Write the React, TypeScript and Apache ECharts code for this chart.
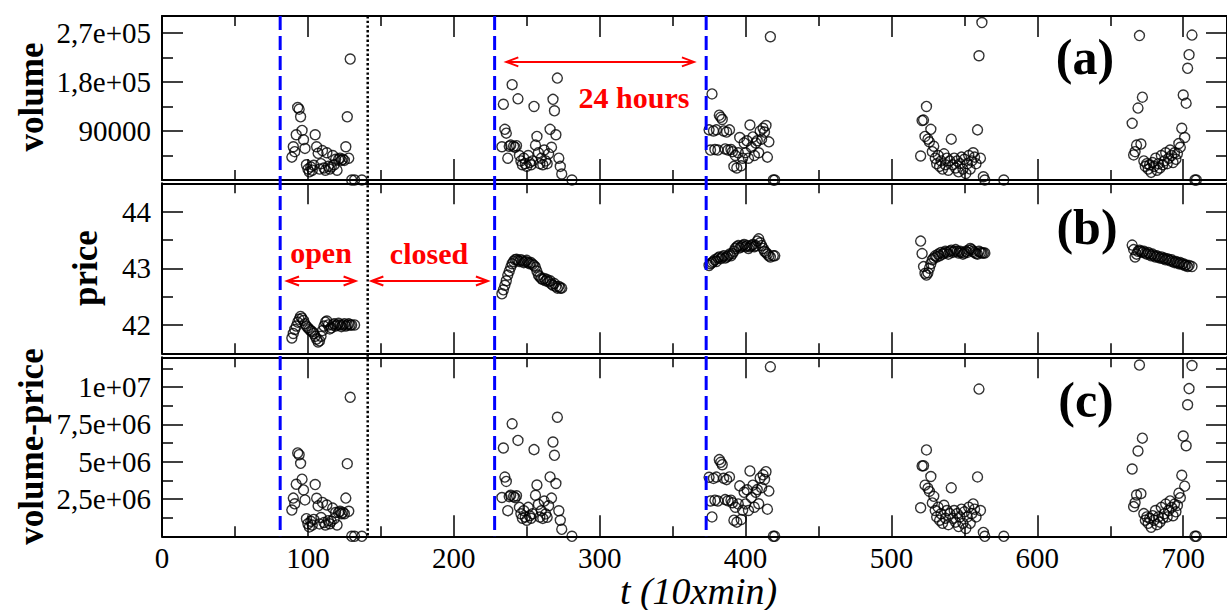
import React, { useEffect, useRef } from "react";
import * as echarts from "echarts";

// ---------------- axes: ranges, ticks, tick labels ----------------
const tMax = 730;
const tMajorTicks = [0, 100, 200, 300, 400, 500, 600, 700];
const tMinorTicks = [50, 150, 250, 350, 450, 550, 650];
const tTickLabels = ["0", "100", "200", "300", "400", "500", "600", "700"];

const volumeMax = 301000;
const volumeMajorTicks = [90000, 180000, 270000];
const volumeMinorTicks = [45000, 135000, 225000];
const volumeTickLabels = ["90000", "1,8e+05", "2,7e+05"];

const priceMin = 41.5;
const priceMax = 44.5;
const priceMajorTicks = [42, 43, 44];
const priceMinorTicks = [42.5, 43.5];
const priceTickLabels = ["42", "43", "44"];

const vpMax = 12000000;
const vpMajorTicks = [2500000, 5000000, 7500000, 10000000];
const vpMinorTicks = [1250000, 3750000, 6250000, 8750000, 11250000];
const vpTickLabels = ["2,5e+06", "5e+06", "7,5e+06", "1e+07"];

// ---------------- reference lines & annotations (data coords) ----------------
const openLines = [81, 228, 373];
const closeLines = [141];
const hoursArrowT = [236, 364.6];
const hoursArrowVolume = 216800;
const openArrowT = [85.7, 132.7];
const closedArrowT = [143.5, 223.4];
const arrowPrice = 42.776;

// ---------------- data (volume in thousands, volume-price in millions) ----------------
const day1T = [89, 90, 91, 92, 93, 94, 95, 96, 97, 98, 99, 100, 101, 102, 103, 104, 105, 106, 107, 108, 109, 110, 111, 112, 113, 114, 115, 116, 117, 118, 119, 120, 121, 122, 123, 124, 125, 126, 127, 128, 129, 130, 132, 137];
const day1VolK = [42, 61, 52, 83, 133, 130, 116, 91, 74, 58, 28, 20, 15, 24, 18, 27, 83, 61, 49, 20, 30, 54, 22, 18, 50, 25, 20, 24, 45, 28, 38, 18, 38, 40, 36, 38, 36, 61, 116, 40, 222, 0, 0, 0];
const day1Price = [41.77, 41.85, 41.92, 41.98, 42.05, 42.1, 42.15, 42.12, 42.08, 42.02, 41.98, 41.95, 41.92, 41.9, 41.88, 41.85, 41.8, 41.75, 41.7, 41.72, 41.8, 41.9, 41.98, 42.05, 42.07, 42.0, 41.93, 41.95, 42.0, 42.02, 41.98, 42.0, 42.03, 42.0, 41.97, 42.0, 42.02, 41.98, 42.0, 42.02, 42.0, 42.0, 42.0, null];
const day1VpM = [1.76, 2.56, 2.18, 3.49, 5.59, 5.47, 4.89, 3.83, 3.11, 2.44, 1.18, 0.84, 0.63, 1.01, 0.75, 1.13, 3.47, 2.55, 2.04, 0.83, 1.26, 2.27, 0.92, 0.76, 2.1, 1.05, 0.84, 1.01, 1.89, 1.18, 1.6, 0.76, 1.6, 1.68, 1.51, 1.6, 1.51, 2.56, 4.87, 1.68, 9.32, 0, 0, 0];

const day2T = [233, 234, 235, 236, 237, 238, 239, 240, 241, 242, 243, 244, 245, 246, 247, 248, 249, 250, 251, 252, 253, 254, 255, 256, 257, 258, 259, 260, 261, 262, 263, 264, 265, 266, 267, 268, 269, 270, 271, 272, 273, 274, 281];
const day2VolK = [61, 139, 93, 86, 40, 62, 64, 175, 62, 60, 63, 149, 45, 35, 28, 40, 30, 25, 45, 32, 28, 35, 135, 64, 80, 50, 30, 40, 28, 55, 35, 30, 48, 93, 60, 148, 127, 83, 187, 40, 25, 11, 0];
const day2Price = [42.55, 42.62, 42.7, 42.78, 42.88, 42.95, 43.02, 43.08, 43.12, 43.15, 43.16, 43.14, 43.12, 43.15, 43.13, 43.1, 43.12, 43.14, 43.1, 43.08, 43.1, 43.07, 43.05, 43.02, 42.95, 42.88, 42.85, 42.82, 42.8, 42.82, 42.78, 42.8, 42.76, 42.78, 42.72, 42.7, 42.73, 42.68, 42.65, 42.68, 42.65, 42.65, null];
const day2VpM = [2.6, 5.92, 3.97, 3.68, 1.72, 2.66, 2.75, 7.54, 2.67, 2.59, 2.72, 6.43, 1.94, 1.51, 1.21, 1.72, 1.29, 1.08, 1.94, 1.38, 1.21, 1.51, 5.81, 2.75, 3.44, 2.14, 1.29, 1.71, 1.2, 2.36, 1.5, 1.28, 2.05, 3.98, 2.56, 6.32, 5.43, 3.54, 7.98, 1.71, 1.07, 0.47, 0];

const day3T = [375, 376, 377, 378, 379, 380, 381, 382, 383, 384, 385, 386, 387, 388, 389, 390, 391, 392, 393, 394, 395, 396, 397, 398, 399, 400, 401, 402, 403, 404, 405, 406, 407, 408, 409, 410, 411, 412, 413, 414, 415, 416, 417, 419, 420];
const day3VolK = [92, 55, 158, 90, 56, 92, 55, 119, 115, 111, 90, 57, 88, 55, 92, 56, 52, 25, 45, 22, 50, 78, 26, 40, 68, 50, 72, 40, 101, 60, 79, 45, 68, 72, 50, 90, 75, 95, 88, 100, 42, 70, 263, 0, 0];
const day3Price = [43.05, 43.08, 43.1, 43.12, 43.15, 43.12, 43.18, 43.2, 43.17, 43.2, 43.22, 43.18, 43.2, 43.22, 43.25, 43.22, 43.26, 43.3, 43.35, 43.38, 43.4, 43.36, 43.38, 43.4, 43.42, 43.38, 43.4, 43.35, 43.38, 43.4, 43.42, 43.38, 43.4, 43.48, 43.52, 43.45, 43.4, 43.35, 43.3, 43.28, 43.25, 43.22, 43.2, 43.22, 43.22];
const day3VpM = [3.96, 2.37, 1.3, 3.88, 2.42, 3.97, 2.37, 5.14, 4.96, 4.8, 3.89, 2.46, 3.8, 2.38, 3.98, 2.42, 2.25, 1.08, 1.95, 0.95, 2.17, 3.38, 1.13, 1.74, 2.95, 2.17, 3.12, 1.73, 4.38, 2.6, 3.43, 1.95, 2.95, 3.13, 2.18, 3.91, 3.26, 4.12, 3.81, 4.33, 1.82, 3.03, 11.36, 0, 0];

const day4T = [520, 521, 522, 523, 524, 525, 526, 527, 528, 529, 530, 531, 532, 533, 534, 535, 536, 537, 538, 539, 540, 541, 542, 543, 544, 545, 546, 547, 548, 549, 550, 551, 552, 553, 554, 555, 556, 557, 558, 559, 560, 561, 562, 563, 564, 577];
const day4VolK = [44, 109, 110, 80, 135, 75, 70, 93, 52, 62, 40, 30, 45, 25, 35, 20, 48, 28, 40, 18, 35, 75, 28, 40, 22, 35, 15, 30, 42, 20, 38, 12, 30, 45, 20, 35, 50, 42, 30, 92, 228, 40, 289, 6, 0, 0];
const day4Price = [43.48, 43.26, 43.03, 42.91, 42.88, 42.92, 43.0, 43.08, 43.15, 43.18, 43.22, 43.2, 43.25, 43.22, 43.28, 43.25, 43.27, 43.3, 43.28, 43.25, 43.3, 43.32, 43.28, 43.3, 43.33, 43.3, 43.27, 43.3, 43.28, 43.25, 43.27, 43.3, 43.28, 43.32, 43.35, 43.33, 43.3, 43.28, 43.26, 43.25, 43.3, 43.28, 43.27, 43.27, 43.27, null];
const day4VpM = [1.91, 4.72, 4.73, 3.43, 5.79, 3.22, 3.01, 4.01, 2.24, 2.68, 1.73, 1.3, 1.95, 1.08, 1.51, 0.87, 2.08, 1.21, 1.73, 0.78, 1.52, 3.25, 1.21, 1.73, 0.95, 1.52, 0.65, 1.3, 1.82, 0.87, 1.64, 0.52, 1.3, 1.95, 0.87, 1.52, 2.17, 1.82, 1.3, 3.98, 9.87, 1.73, 12.5, 0.26, 0, 0];

const day5T = [665, 666, 667, 668, 669, 670, 671, 672, 673, 674, 675, 676, 677, 678, 679, 680, 681, 682, 683, 684, 685, 686, 687, 688, 689, 690, 691, 692, 693, 694, 695, 696, 697, 698, 699, 700, 701, 702, 703, 704, 706, 708, 709];
const day5VolK = [104, 46, 52, 64, 132, 265, 66, 152, 35, 25, 30, 20, 28, 14, 32, 25, 40, 18, 30, 22, 45, 28, 35, 50, 30, 40, 55, 45, 32, 50, 38, 48, 67, 60, 95, 156, 78, 141, 205, 230, 266, 0, 0];
const day5Price = [43.41, 43.33, 43.2, 43.25, 43.3, 43.32, 43.3, 43.28, 43.3, 43.27, 43.25, 43.28, 43.25, 43.22, 43.25, 43.22, 43.2, 43.22, 43.2, 43.18, 43.2, 43.17, 43.18, 43.15, 43.17, 43.15, 43.13, 43.15, 43.12, 43.1, 43.12, 43.1, 43.08, 43.1, 43.07, 43.08, 43.05, 43.06, 43.03, 43.05, 43.03, null, null];
const day5VpM = [4.51, 1.99, 2.25, 2.77, 5.72, 11.48, 2.86, 6.58, 1.52, 1.08, 1.3, 0.87, 1.21, 0.61, 1.38, 1.08, 1.73, 0.78, 1.3, 0.95, 1.94, 1.21, 1.51, 2.16, 1.3, 1.73, 2.37, 1.94, 1.38, 2.16, 1.64, 2.07, 2.89, 2.59, 4.09, 6.72, 3.36, 6.07, 8.82, 9.9, 11.45, 0, 0];

const allT = [...day1T, ...day2T, ...day3T, ...day4T, ...day5T];
const allVolK = [...day1VolK, ...day2VolK, ...day3VolK, ...day4VolK, ...day5VolK];
const allPrice: (number | null)[] = [...day1Price, ...day2Price, ...day3Price, ...day4Price, ...day5Price];
const allVpM = [...day1VpM, ...day2VpM, ...day3VpM, ...day4VpM, ...day5VpM];

// ---------------- helpers ----------------
const FONT = "'Liberation Serif', 'Times New Roman', Times, serif";
const lineStyle = { color: "#000", width: 2 };
const tickStyle = { color: "#000", width: 1.5 };

function xAxesFor(gridIndex: number) {
  const mk = (position: string, major: boolean) => ({
    type: "value",
    gridIndex,
    position,
    min: 0,
    max: tMax,
    splitLine: { show: false },
    axisLine: { show: major, onZero: false, lineStyle },
    axisTick: {
      show: true,
      inside: true,
      length: major ? 21 : 10,
      customValues: major ? tMajorTicks : tMinorTicks,
      lineStyle: tickStyle,
    },
    axisLabel: { show: false },
  });
  return [mk("bottom", true), mk("bottom", false), mk("top", true), mk("top", false)];
}

function yAxesFor(gridIndex: number, min: number, max: number, major: number[], minor: number[]) {
  const mk = (position: string, isMajor: boolean) => ({
    type: "value",
    gridIndex,
    position,
    min,
    max,
    splitLine: { show: false },
    axisLine: { show: isMajor, onZero: false, lineStyle },
    axisTick: {
      show: true,
      inside: true,
      length: isMajor ? 21 : 11,
      customValues: isMajor ? major : minor,
      lineStyle: tickStyle,
    },
    axisLabel: { show: false },
  });
  return [mk("left", true), mk("left", false), mk("right", true), mk("right", false)];
}

const symbolStyle = {
  type: "scatter",
  symbol: "circle",
  symbolSize: 10,
  clip: true,
  silent: true,
  itemStyle: { color: "rgba(0,0,0,0)", borderColor: "#000", borderWidth: 1.4 },
};

export default function App() {
  const ref = useRef<HTMLDivElement>(null);

  useEffect(() => {
    if (!ref.current) return;
    const chart = echarts.init(ref.current, undefined, { renderer: "svg" });

    const volumeData = allT.map((t, i) => [t, allVolK[i] * 1000]);
    const priceData = allT
      .map((t, i) => [t, allPrice[i]])
      .filter((d) => d[1] !== null);
    const vpData = allT.map((t, i) => [t, allVpM[i] * 1e6]);

    chart.setOption({
      animation: false,
      backgroundColor: "#fff",
      textStyle: { fontFamily: FONT },
      grid: [
        { left: 162, top: 16, width: 1073, height: 164 },
        { left: 162, top: 183.3, width: 1073, height: 170 },
        { left: 162, top: 357.3, width: 1073, height: 179 },
      ],
      xAxis: [...xAxesFor(0), ...xAxesFor(1), ...xAxesFor(2)],
      yAxis: [
        ...yAxesFor(0, 0, volumeMax, volumeMajorTicks, volumeMinorTicks),
        ...yAxesFor(1, priceMin, priceMax, priceMajorTicks, priceMinorTicks),
        ...yAxesFor(2, 0, vpMax, vpMajorTicks, vpMinorTicks),
      ],
      series: [
        { ...symbolStyle, xAxisIndex: 0, yAxisIndex: 0, data: volumeData },
        { ...symbolStyle, xAxisIndex: 4, yAxisIndex: 4, data: priceData },
        { ...symbolStyle, xAxisIndex: 8, yAxisIndex: 8, data: vpData },
      ],
    });

    const px = (t: number) => chart.convertToPixel({ xAxisIndex: 0 }, t) as number;
    const py = (axis: number, v: number) => chart.convertToPixel({ yAxisIndex: axis }, v) as number;
    const yTop = py(0, volumeMax);
    const yBot = py(8, 0);
    const yHours = py(0, hoursArrowVolume);
    const yArrowB = py(4, arrowPrice);
    const axisLeft = px(0);

    const red = "#ff0000";
    const arrow = (t0: number, t1: number, y: number) => {
      const x0 = px(t0);
      const x1 = px(t1);
      return [
        { type: "line", shape: { x1: x0, y1: y, x2: x1, y2: y }, style: { stroke: red, lineWidth: 2 }, z: 60 },
        {
          type: "polyline",
          shape: { points: [[x0 + 12, y - 4.5], [x0, y], [x0 + 12, y + 4.5]] },
          style: { stroke: red, lineWidth: 2, fill: null },
          z: 60,
        },
        {
          type: "polyline",
          shape: { points: [[x1 - 12, y - 4.5], [x1, y], [x1 - 12, y + 4.5]] },
          style: { stroke: red, lineWidth: 2, fill: null },
          z: 60,
        },
      ];
    };

    const text = (s: string, x: number, y: number, font: string, fill = "#000", rotation = 0, align = "center") => ({
      type: "text",
      x,
      y,
      rotation,
      z: 70,
      style: {
        text: s,
        font,
        fill,
        align,
        verticalAlign: "middle",
        textAlign: align,
        textVerticalAlign: "middle",
      },
    });

    const tickFont = `29px ${FONT}`;
    const yLabels = (axis: number, vals: number[], labels: string[]) =>
      vals.map((v, i) => text(labels[i], axisLeft - 11, py(axis, v), tickFont, "#000", 0, "right"));
    const xLabels = tMajorTicks.map((t, i) => text(tTickLabels[i], px(t), yBot + 22, tickFont));

    const graphics: any[] = [
      ...openLines.map((t) => ({
        type: "line",
        shape: { x1: px(t), y1: yTop, x2: px(t), y2: yBot },
        style: { stroke: "#0000ff", lineWidth: 3, lineDash: [14, 6] },
        z: 50,
      })),
      ...closeLines.map((t) => ({
        type: "line",
        shape: { x1: px(t), y1: yTop, x2: px(t), y2: yBot },
        style: { stroke: "#000", lineWidth: 2.5, lineDash: [2.4, 2.3] },
        z: 50,
      })),
      ...arrow(hoursArrowT[0], hoursArrowT[1], yHours),
      ...arrow(openArrowT[0], openArrowT[1], yArrowB),
      ...arrow(closedArrowT[0], closedArrowT[1], yArrowB),
      ...yLabels(0, volumeMajorTicks, volumeTickLabels),
      ...yLabels(4, priceMajorTicks, priceTickLabels),
      ...yLabels(8, vpMajorTicks, vpTickLabels),
      ...xLabels,
      text("24 hours", 634, 97, `bold 30px ${FONT}`, red),
      text("open", 321, 252, `bold 30px ${FONT}`, red),
      text("closed", 429, 253, `bold 30px ${FONT}`, red),
      text("(a)", 1085, 57, `bold 50px ${FONT}`),
      text("(b)", 1087, 227, `bold 50px ${FONT}`),
      text("(c)", 1086, 400, `bold 50px ${FONT}`),
      text("volume", 31.5, 97, `bold 35px ${FONT}`, "#000", Math.PI / 2),
      text("price", 85, 268, `bold 35px ${FONT}`, "#000", Math.PI / 2),
      text("volume-price", 31.5, 446.5, `bold 35px ${FONT}`, "#000", Math.PI / 2),
      text("t (10xmin)", 698.5, 591, `italic 38px ${FONT}`),
    ];

    chart.setOption({ graphic: graphics });

    return () => chart.dispose();
  }, []);

  return (
    <div
      ref={ref}
      style={{ position: "fixed", left: 0, top: 0, width: 1227, height: 610, background: "#fff" }}
    />
  );
}
